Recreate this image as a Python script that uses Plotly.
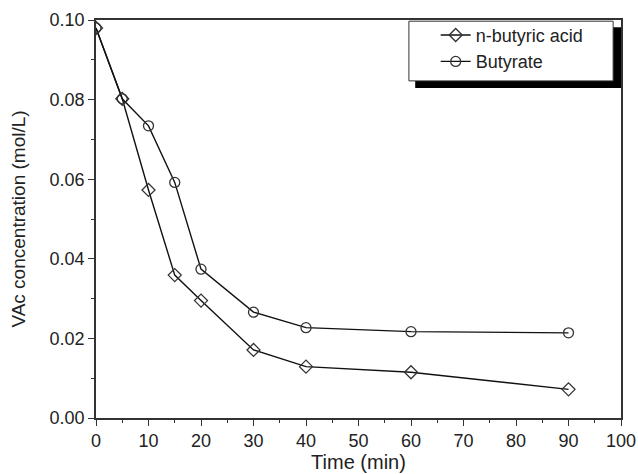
import plotly.graph_objects as go

time_min = [0, 5, 10, 15, 20, 30, 40, 60, 90]
n_butyric = [0.098, 0.0802, 0.0573, 0.0359, 0.0295, 0.0171, 0.0129, 0.0115, 0.0072]
butyrate = [0.098, 0.0802, 0.0734, 0.0592, 0.0374, 0.0266, 0.0227, 0.0217, 0.0214]

fig = go.Figure()
fig.add_trace(go.Scatter(
    x=time_min, y=n_butyric, mode="lines+markers", name="n-butyric acid",
    legendgroup="a",
    line=dict(color="#111", width=1.4),
    marker=dict(symbol="diamond-open", size=10, color="#333", line=dict(width=1.3))))
fig.add_trace(go.Scatter(
    x=time_min, y=butyrate, mode="lines+markers", name="Butyrate",
    legendgroup="b",
    line=dict(color="#111", width=1.4),
    marker=dict(symbol="circle-open", size=10, color="#333", line=dict(width=1.3))))

# legend box with drop shadow
fig.add_shape(type="rect", xref="x", yref="y", x0=60.8, x1=100, y0=0.0829, y1=0.0982,
              fillcolor="black", line=dict(width=0), layer="below")
fig.add_shape(type="rect", xref="x", yref="y", x0=59.6, x1=98.5, y0=0.0847, y1=0.0997,
              fillcolor="white", line=dict(color="#333", width=1), layer="below")

font = "Liberation Sans, Arial, sans-serif"
axis_common = dict(ticks="outside", ticklen=6, tickwidth=1.3, tickcolor="#333",
                   showline=True, linecolor="#333", linewidth=1.6, mirror=True,
                   showgrid=False, zeroline=False, automargin=False,
                   tickfont=dict(size=18))
fig.update_layout(
    width=638, height=474,
    margin=dict(l=96, r=17, t=20, b=56),
    paper_bgcolor="white", plot_bgcolor="white",
    font=dict(family=font, size=18, color="#222"),
    showlegend=True,
    legend=dict(x=0.647, y=1.008, xanchor="left", yanchor="top",
                bgcolor="rgba(0,0,0,0)", borderwidth=0,
                font=dict(size=18, family=font, color="#222"),
                traceorder="grouped", tracegroupgap=0),
    xaxis=dict(range=[0, 100], dtick=10, tick0=0,
               minor=dict(dtick=5, ticks="outside", ticklen=3, tickcolor="#333", tickwidth=1.3, showgrid=False),
               title=dict(text="Time (min)", font=dict(size=20), standoff=4),
               **axis_common),
    yaxis=dict(range=[0, 0.1], dtick=0.02, tick0=0, tickformat=".2f",
               minor=dict(dtick=0.01, ticks="outside", ticklen=3, tickcolor="#333", tickwidth=1.3, showgrid=False),
               title=dict(text="VAc concentration (mol/L)", font=dict(size=19), standoff=19),
               **axis_common),
)

fig.write_html("out.html", config={"displayModeBar": False},
               post_script="document.body.style.margin='0';document.body.style.overflow='hidden';")
